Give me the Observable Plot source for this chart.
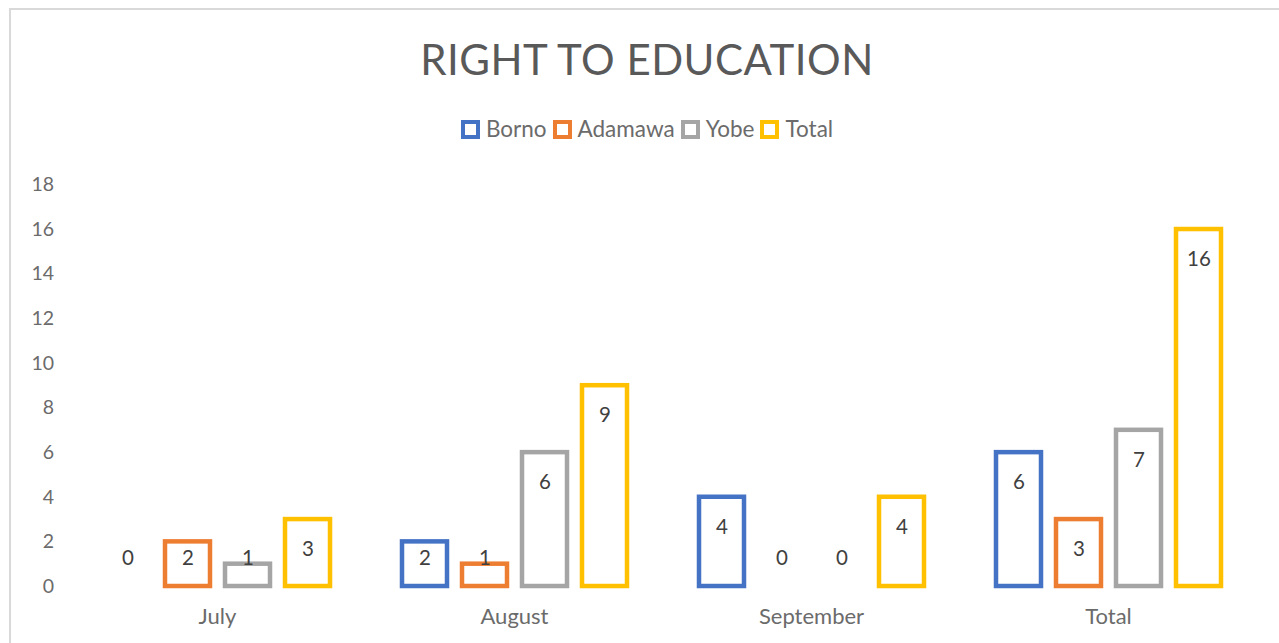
<!DOCTYPE html>
<html>
<head>
<meta charset="utf-8">
<script src="https://cdn.jsdelivr.net/npm/d3@7"></script>
<script src="https://cdn.jsdelivr.net/npm/@observablehq/plot@0.6"></script>
<style>
  html, body { margin: 0; padding: 0; background: #fff; }
  #wrap { position: relative; width: 1279px; height: 643px; overflow: hidden; font-family: Lato, "Open Sans", sans-serif; }
  #frame { position: absolute; left: 9px; top: 8px; width: 1400px; height: 800px; border-left: 2px solid #d9d9d9; border-top: 2px solid #d9d9d9; box-sizing: border-box; }
  #title { position: absolute; left: 0; width: 1294px; top: 31px; text-align: center; font-size: 42px; color: #595959; line-height: 56px; letter-spacing: 0.5px; }
  #legend { position: absolute; left: 0; width: 1294px; top: 115px; display: flex; justify-content: center; align-items: center; font-size: 22.5px; color: #6b6b6b; line-height: 28px; }
  .item { display: flex; align-items: center; margin: 0 3px; }
  .sw { width: 11px; height: 11px; border: 4px solid; margin-right: 6px; box-sizing: content-box; background: #fff; }
  #chart { position: absolute; left: 0; top: 160px; }
  #chart svg { overflow: visible; }
</style>
</head>
<body>
<div id="wrap">
  <div id="frame"></div>
  <div id="title">RIGHT TO EDUCATION</div>
  <div id="legend"></div>
  <div id="chart"></div>
</div>
<script>
const categories = ["July", "August", "September", "Total"];
const series = ["Borno", "Adamawa", "Yobe", "Total"];
const colors = ["#4472C4", "#ED7D31", "#A5A5A5", "#FFC000"];
const borno = [0, 2, 4, 6];
const adamawa = [2, 1, 0, 3];
const yobe = [1, 6, 0, 7];
const total = [3, 9, 4, 16];
const yTicks = [0, 2, 4, 6, 8, 10, 12, 14, 16, 18];

const seriesValues = [borno, adamawa, yobe, total];
const data = [];
categories.forEach((c, i) => {
  series.forEach((s, j) => {
    data.push({category: c, series: s, value: seriesValues[j][i]});
  });
});

// legend
const legend = document.getElementById("legend");
series.forEach((s, j) => {
  const it = document.createElement("div");
  it.className = "item";
  const sw = document.createElement("span");
  sw.className = "sw";
  sw.style.borderColor = colors[j];
  const t = document.createElement("span");
  t.textContent = s;
  it.appendChild(sw); it.appendChild(t);
  legend.appendChild(it);
});

const chart = Plot.plot({
  width: 1279,
  height: 483,
  marginLeft: 68,
  marginRight: 22.5,
  marginTop: 24.4,
  marginBottom: 57,
  style: {fontFamily: "Lato, 'Open Sans', sans-serif", fontSize: "19px", color: "#6b6b6b", background: "transparent"},
  fx: {domain: categories, paddingInner: 0.192, paddingOuter: 0.096, label: null},
  x: {domain: series, paddingInner: 0.25, paddingOuter: 0.125, axis: null},
  y: {domain: [0, 18], ticks: yTicks, label: null, grid: false},
  color: {domain: series, range: colors},
  marks: [
    Plot.axisY({ticks: yTicks, tickSize: 0, tickPadding: 43.5, label: null, fontSize: 19.5}),
    Plot.axisFx({anchor: "bottom", tickSize: 0, tickPadding: 22, label: null, fontSize: 22}),
    Plot.rectY(data.filter(d => d.value > 0), {
      fx: "category", x: "series", y1: 0, y2: "value",
      stroke: "series", fill: "white", strokeWidth: 4.5
    }),
    Plot.text(data.filter(d => d.value >= 3), {
      fx: "category", x: "series", y: "value", text: d => String(d.value),
      dy: 30, fill: "#404040", fontSize: 20.5
    }),
    Plot.text(data.filter(d => d.value < 3), {
      fx: "category", x: "series", y: 0, text: d => String(d.value),
      dy: -28, fill: "#404040", fontSize: 20.5
    })
  ]
});
document.getElementById("chart").appendChild(chart);
</script>
</body>
</html>
